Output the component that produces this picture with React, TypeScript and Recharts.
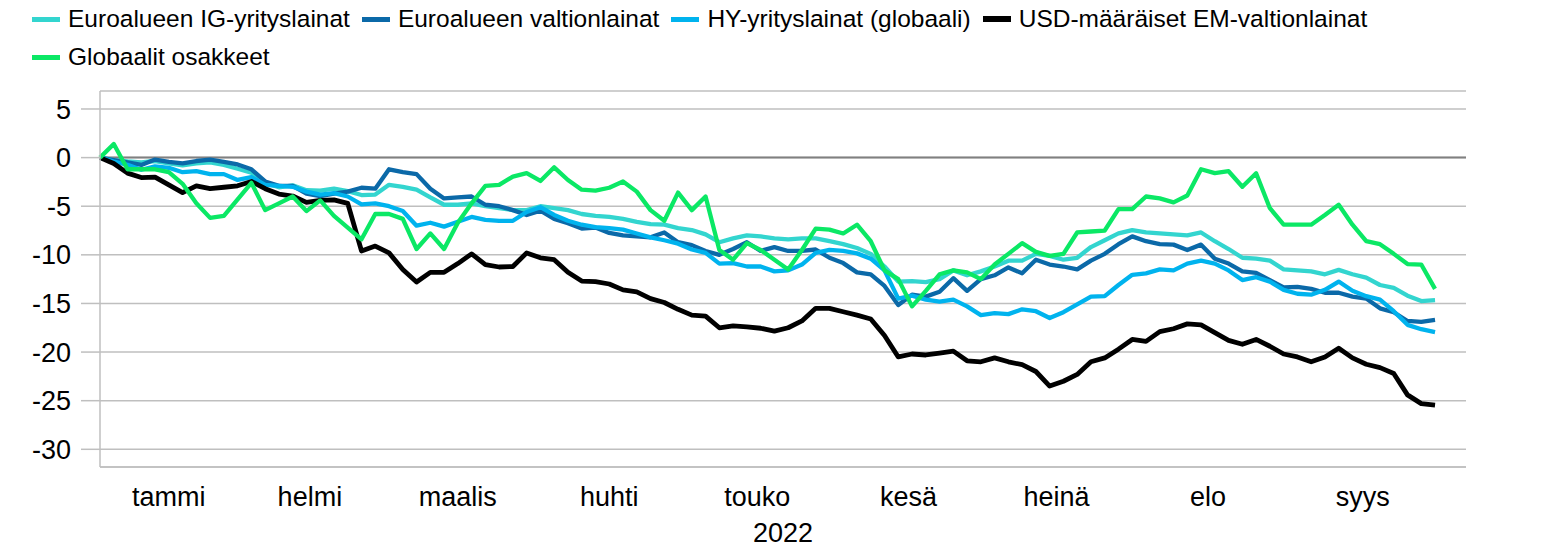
import { LineChart, Line, XAxis, YAxis, CartesianGrid, ReferenceLine, Label } from "recharts"

const FONT = "'Liberation Sans', Arial, sans-serif"

// business-day index, every second trading day from the start of 2022
const days = Array.from({ length: 98 }, (_, i) => i * 2)

const monthTicks = [10, 30.5, 52, 74, 95.5, 117.5, 139, 161, 183.5]
const monthLabels = ["tammi", "helmi", "maalis", "huhti", "touko", "kesä", "heinä", "elo", "syys"]
const yTicks = [5, 0, -5, -10, -15, -20, -25, -30]

const euroIG = [
  0, -0.25, -0.4, -0.5, -0.35, -0.6, -0.8, -0.6, -0.5, -0.75,
  -1.15, -1.55, -2.6, -3.05, -2.85, -3.35, -3.4, -3.2, -3.45, -3.85,
  -3.8, -2.8, -3.0, -3.3, -4.1, -4.85, -4.85, -4.7, -5.0, -5.2,
  -5.4, -5.4, -5.0, -5.2, -5.4, -5.8, -6.0, -6.1, -6.3, -6.6,
  -6.85, -6.9, -7.25, -7.45, -7.9, -8.7, -8.3, -8.0, -8.1, -8.3,
  -8.4, -8.3, -8.3, -8.6, -8.9, -9.3, -9.9, -11.2, -12.75, -12.7,
  -12.8, -12.5, -11.6, -12.1, -11.7, -11.2, -10.6, -10.6, -9.9, -10.1,
  -10.5, -10.3, -9.2, -8.5, -7.8, -7.45, -7.7, -7.8, -7.9, -8.0,
  -7.7, -8.6, -9.4, -10.3, -10.4, -10.6, -11.5, -11.6, -11.7, -12.0,
  -11.55, -12.0, -12.35, -13.1, -13.4, -14.2, -14.75, -14.65,
]

const euroGov = [
  0, -0.25, -0.5, -0.75, -0.2, -0.45, -0.6, -0.35, -0.2, -0.45,
  -0.7, -1.2, -2.45, -2.9, -2.9, -3.7, -3.95, -3.7, -3.5, -3.1,
  -3.2, -1.2, -1.5, -1.7, -3.2, -4.2, -4.1, -4.0, -4.85, -5.0,
  -5.4, -5.9, -5.45, -6.3, -6.75, -7.3, -7.2, -7.75, -8.0, -8.1,
  -8.2, -7.7, -8.7, -9.0, -9.6, -10.0, -9.4, -8.7, -9.6, -9.2,
  -9.6, -9.6, -9.45, -10.3, -10.85, -11.8, -12.0, -13.2, -15.15, -14.1,
  -14.3, -13.8, -12.4, -13.7, -12.5, -12.1, -11.3, -11.9, -10.5, -11.0,
  -11.2, -11.5, -10.6, -9.9, -8.9, -8.1, -8.6, -8.9, -8.95, -9.5,
  -8.95, -10.4, -10.9, -11.7, -11.85, -12.6, -13.35, -13.3, -13.5, -13.9,
  -13.9, -14.3, -14.5, -15.5, -15.9, -16.8, -16.9, -16.7,
]

const highYield = [
  0, -0.4, -0.75, -1.25, -0.9, -1.05, -1.5, -1.4, -1.7, -1.7,
  -2.3, -2.0, -2.8, -2.9, -3.0, -3.5, -3.8, -3.65, -4.0, -4.8,
  -4.7, -5.0, -5.5, -7.0, -6.7, -7.1, -6.6, -6.1, -6.4, -6.5,
  -6.5, -5.6, -5.1, -5.9, -6.5, -6.9, -7.15, -7.25, -7.4, -7.8,
  -8.2, -8.5, -8.85, -9.45, -9.8, -10.9, -10.85, -11.2, -11.2, -11.7,
  -11.6, -11.0, -9.8, -9.5, -9.6, -9.85, -10.4, -11.6, -14.5, -14.2,
  -14.6, -14.8, -14.6, -15.3, -16.2, -16.0, -16.1, -15.6, -15.8, -16.5,
  -15.9, -15.1, -14.3, -14.25, -13.1, -12.05, -11.9, -11.5, -11.6, -10.9,
  -10.6, -10.9, -11.6, -12.6, -12.3, -12.75, -13.6, -14.0, -14.1, -13.6,
  -12.75, -13.7, -14.25, -14.6, -15.8, -17.2, -17.65, -17.95,
]

const emUsd = [
  0, -0.6, -1.6, -2.05, -2.0, -2.8, -3.6, -2.9, -3.2, -3.05,
  -2.9, -2.45, -3.2, -3.75, -3.95, -4.6, -4.4, -4.35, -4.7, -9.6,
  -9.1, -9.8, -11.5, -12.8, -11.8, -11.8, -10.9, -9.9, -11.0, -11.25,
  -11.2, -9.8, -10.3, -10.5, -11.8, -12.7, -12.75, -13.0, -13.6, -13.8,
  -14.5, -14.9, -15.6, -16.2, -16.3, -17.5, -17.3, -17.4, -17.55, -17.85,
  -17.5, -16.8, -15.5, -15.5, -15.85, -16.2, -16.6, -18.3, -20.5, -20.2,
  -20.3, -20.1, -19.9, -20.9, -21.0, -20.6, -21.0, -21.3, -22.0, -23.5,
  -23.0, -22.3, -21.0, -20.6, -19.7, -18.7, -18.9, -17.9, -17.6, -17.1,
  -17.2, -18.0, -18.8, -19.2, -18.7, -19.4, -20.2, -20.5, -21.0, -20.5,
  -19.6, -20.6, -21.25, -21.6, -22.2, -24.4, -25.3, -25.45,
]

const equities = [
  0, 1.4, -1.2, -1.2, -1.2, -1.5, -2.7, -4.7, -6.2, -6.0,
  -4.3, -2.6, -5.4, -4.7, -4.0, -5.5, -4.4, -6.0, -7.2, -8.4,
  -5.8, -5.8, -6.3, -9.4, -7.8, -9.4, -6.7, -4.7, -2.9, -2.8,
  -1.95, -1.6, -2.4, -1.0, -2.3, -3.3, -3.4, -3.1, -2.45, -3.5,
  -5.4, -6.5, -3.6, -5.4, -4.0, -9.5, -10.5, -8.8, -9.5, -10.5,
  -11.5, -9.5, -7.3, -7.4, -7.8, -6.9, -8.6, -11.6, -12.5, -15.3,
  -13.7, -12.0, -11.6, -11.8, -12.5, -11.0, -9.9, -8.8, -9.7, -10.1,
  -9.9, -7.7, -7.6, -7.5, -5.3, -5.3, -4.0, -4.2, -4.6, -3.9,
  -1.2, -1.6, -1.4, -3.0, -1.6, -5.2, -6.9, -6.9, -6.9, -5.9,
  -4.85, -6.9, -8.6, -8.9, -9.9, -10.95, -11.0, -13.5,
]

const series = [
  { key: "ig", name: "Euroalueen IG-yrityslainat", color: "#33D5CF", width: 4.3 },
  { key: "gov", name: "Euroalueen valtionlainat", color: "#0B69A8", width: 4.3 },
  { key: "hy", name: "HY-yrityslainat (globaali)", color: "#00B3EE", width: 4.3 },
  { key: "em", name: "USD-määräiset EM-valtionlainat", color: "#000000", width: 4.8 },
  { key: "eq", name: "Globaalit osakkeet", color: "#0BE865", width: 4.3 },
]

const data = days.map((day, i) => ({
  day,
  ig: euroIG[i],
  gov: euroGov[i],
  hy: highYield[i],
  em: emUsd[i],
  eq: equities[i],
}))

function RightTick(props: any) {
  const { x, y, payload } = props
  return (
    <text x={x + 49} y={y} dy="0.36em" textAnchor="end" fill="#000" fontSize={27} fontFamily={FONT}>
      {payload.value}
    </text>
  )
}

function ChartLegend() {
  return (
    <div
      style={{
        position: "absolute",
        left: 32,
        top: 0,
        width: 1400,
        display: "flex",
        flexWrap: "wrap",
        fontFamily: FONT,
        fontSize: 24.5,
        lineHeight: "38px",
        color: "#000",
      }}
    >
      {series.map((s) => (
        <div key={s.key} style={{ display: "flex", alignItems: "center", marginRight: 12, whiteSpace: "nowrap" }}>
          <span
            style={{
              display: "inline-block",
              width: 28,
              height: s.key === "em" ? 6 : 5,
              background: s.color,
              marginRight: 8,
            }}
          />
          <span>{s.name}</span>
        </div>
      ))}
    </div>
  )
}

export default function App() {
  return (
    <div style={{ position: "absolute", left: 0, top: 0, width: 1561, height: 547, background: "#fff" }}>
      <LineChart width={1561} height={547} data={data} margin={{ top: 91, right: 0, bottom: 0, left: 0 }}>
        <CartesianGrid yAxisId="left" horizontal vertical={false} stroke="#BFBFBF" strokeWidth={1.5} />
        <XAxis
          dataKey="day"
          type="number"
          domain={[0, 198.5]}
          ticks={monthTicks}
          tickFormatter={(v) => monthLabels[monthTicks.indexOf(v)] ?? ""}
          interval={0}
          height={80}
          tickLine={false}
          tickMargin={14}
          axisLine={{ stroke: "#BFBFBF", strokeWidth: 1.5 }}
          tick={{ fill: "#000", fontSize: 27, fontFamily: FONT }}
        >
          <Label
            content={(p: any) => (
              <text
                x={p.viewBox.x + p.viewBox.width / 2}
                y={p.viewBox.y + 74.5}
                textAnchor="middle"
                fill="#000"
                fontSize={27}
                fontFamily={FONT}
              >
                2022
              </text>
            )}
          />
        </XAxis>
        <YAxis
          yAxisId="left"
          type="number"
          domain={[-31.82, 6.85]}
          ticks={yTicks}
          interval={0}
          width={100}
          tickSize={19}
          tickMargin={10}
          tickLine={{ stroke: "#BFBFBF", strokeWidth: 1.5 }}
          axisLine={{ stroke: "#BFBFBF", strokeWidth: 1.5 }}
          tick={{ fill: "#000", fontSize: 27, fontFamily: FONT }}
        />
        <YAxis
          yAxisId="right"
          orientation="right"
          type="number"
          domain={[-31.82, 6.85]}
          ticks={yTicks}
          interval={0}
          width={95}
          tickSize={8}
          tickMargin={0}
          tickLine={{ stroke: "#BFBFBF", strokeWidth: 1.5 }}
          axisLine={false}
          tick={<RightTick />}
        />
        <ReferenceLine yAxisId="left" y={0} stroke="#808080" strokeWidth={2} />
        {series.map((s) => (
          <Line
            key={s.key}
            yAxisId="left"
            type="linear"
            dataKey={s.key}
            name={s.name}
            stroke={s.color}
            strokeWidth={s.width}
            strokeLinejoin="round"
            dot={false}
            activeDot={false}
            isAnimationActive={false}
          />
        ))}
      </LineChart>
      <ChartLegend />
    </div>
  )
}
